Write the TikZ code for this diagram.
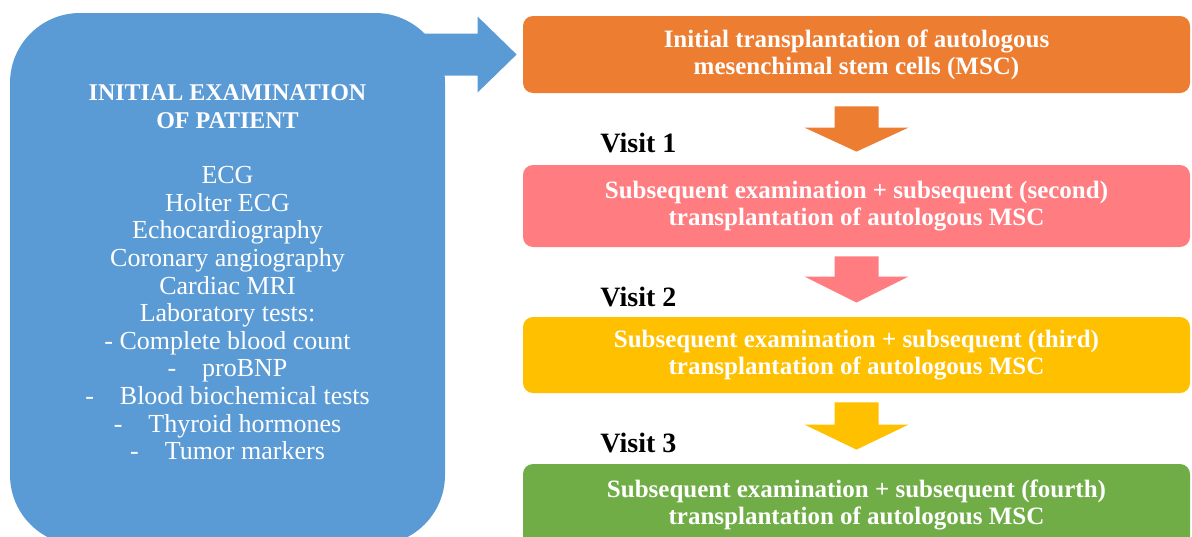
\documentclass[tikz,border=0pt]{standalone}
\usepackage{fontspec}
\setmainfont{Liberation Serif}
\usetikzlibrary{calc}
\definecolor{examblue}{HTML}{5B9BD5}
\definecolor{mscorange}{HTML}{ED7D31}
\definecolor{mscpink}{HTML}{FF7C80}
\definecolor{mscyellow}{HTML}{FFC000}
\definecolor{mscgreen}{HTML}{70AD47}

\begin{document}
\begin{tikzpicture}[x=0.5pt,y=-0.5pt,
    stagebox/.style={rounded corners=5pt, minimum width=333.5pt, minimum height=#1,
      inner sep=0pt, text=white, align=center, font=\fontsize{12.5}{13.5}\selectfont\bfseries},
    visitlabel/.style={anchor=west, inner sep=0pt, font=\fontsize{14}{14}\selectfont\bfseries}]
  \useasboundingbox (0,0) rectangle (1192,536);
  \clip (0,0) rectangle (1192,536);
  %left block
  \node [fill=examblue, rounded corners=35pt, minimum width=217.5pt, minimum height=266pt,
    inner sep=0pt, text=white, align=center, font=\fontsize{13}{13.8}\selectfont] (exam) at (227.5,279)
    {{\fontsize{12}{13}\selectfont\bfseries INITIAL EXAMINATION}\\
     {\fontsize{12}{13}\selectfont\bfseries OF PATIENT}\\[14pt]
     ECG\\ Holter ECG\\ Echocardiography\\ Coronary angiography\\ Cardiac MRI\\
     Laboratory tests:\\ - Complete blood count\\ -\quad proBNP\\
     -\quad Blood biochemical tests\\ -\quad Thyroid hormones\\ -\quad Tumor markers\\[-7pt]\mbox{}};
  %stages
  \node [stagebox=38.5pt, fill=mscorange] (init) at (856.5,54.5)
    {Initial transplantation of autologous\\ mesenchimal stem cells (MSC)};
  \node [stagebox=41pt, fill=mscpink] (second) at (856.5,206)
    {Subsequent examination + subsequent (second)\\ transplantation of autologous MSC};
  \node [stagebox=38pt, fill=mscyellow] (third) at (856.5,355)
    {Subsequent examination + subsequent (third)\\ transplantation of autologous MSC};
  \node [stagebox=41pt, fill=mscgreen] (fourth) at (856.5,505)
    {Subsequent examination + subsequent (fourth)\\ transplantation of autologous MSC};
  \node [visitlabel] (visitA) at (600,143) {Visit 1};
  \node [visitlabel] (visitB) at (600,297) {Visit 2};
  \node [visitlabel] (visitC) at (600,443) {Visit 3};
  %block arrows
  \fill [examblue] ($(exam.east |- init.west)+(-45,-21)$) -- ($(init.west)+(-45,-21)$)
    -- ($(init.west)+(-45,-38)$) -- ($(init.west)+(-6,0)$) -- ($(init.west)+(-45,38)$)
    -- ($(init.west)+(-45,21)$) -- ($(exam.east |- init.west)+(-45,21)$) -- cycle;
  \fill [mscorange] ($(init.south)+(-22,13)$) -- ($(init.south)+(22,13)$)
    -- ($(second.north)+(22,-37)$) -- ($(second.north)+(52,-37)$) -- ($(second.north)+(0,-13)$)
    -- ($(second.north)+(-52,-37)$) -- ($(second.north)+(-22,-37)$) -- cycle;
  \fill [mscpink] ($(second.south)+(-22,9)$) -- ($(second.south)+(22,9)$)
    -- ($(third.north)+(22,-40)$) -- ($(third.north)+(52,-40)$) -- ($(third.north)+(0,-14)$)
    -- ($(third.north)+(-52,-40)$) -- ($(third.north)+(-22,-40)$) -- cycle;
  \fill [mscyellow] ($(third.south)+(-22,9)$) -- ($(third.south)+(22,9)$)
    -- ($(fourth.north)+(22,-39)$) -- ($(fourth.north)+(52,-39)$) -- ($(fourth.north)+(0,-14)$)
    -- ($(fourth.north)+(-52,-39)$) -- ($(fourth.north)+(-22,-39)$) -- cycle;
\end{tikzpicture}
\end{document}
